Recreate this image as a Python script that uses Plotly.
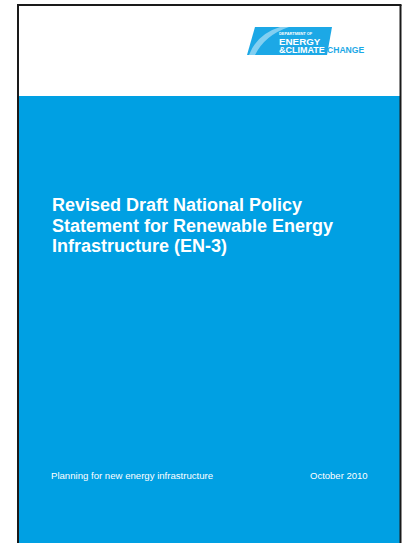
import plotly.graph_objects as go

# Content of the cover (text items)
title_lines = ["Revised Draft National Policy",
               "Statement for Renewable Energy",
               "Infrastructure (EN-3)"]
title_y = [205, 226, 246]
footer_left = "Planning for new energy infrastructure"
footer_right = "October 2010"
logo_small = "DEPARTMENT OF"
logo_line1 = "ENERGY"
logo_line2a = "&CLIMATE"
logo_line2b = "CHANGE"

W, H = 403, 543
BLUE = "#00A0E3"
LOGO_BLUE = "#1CA8E6"
FONT = "Liberation Sans, Arial, sans-serif"

fig = go.Figure()
fig.add_trace(go.Scatter(x=[0, W], y=[0, H], mode="markers",
                         marker=dict(opacity=0), hoverinfo="skip", showlegend=False))

shapes = []
# blue body
shapes.append(dict(type="rect", x0=18, x1=401, y0=96, y1=H + 5,
                   fillcolor=BLUE, line=dict(width=0), layer="below"))
# logo parallelogram
shapes.append(dict(type="path", path="M 255,27 L 332,27 L 327,55 L 247,55 Z",
                   fillcolor=LOGO_BLUE, line=dict(width=0)))
# swoosh
shapes.append(dict(type="path",
                   path="M 249,55 Q 257,34 280,27 L 289,27 Q 265,35 255,55 Z",
                   fillcolor="rgba(255,255,255,0.45)", line=dict(width=0)))
# border
shapes.append(dict(type="line", x0=18, x1=18, y0=5, y1=H + 5,
                   line=dict(color="#1a1a1a", width=2)))
shapes.append(dict(type="line", x0=400.5, x1=400.5, y0=5, y1=H + 5,
                   line=dict(color="#1a1a1a", width=2)))
shapes.append(dict(type="line", x0=17, x1=401.5, y0=5, y1=5,
                   line=dict(color="#1a1a1a", width=2)))

ann = []
for line, y in zip(title_lines, title_y):
    ann.append(dict(text="<b>" + line + "</b>", x=50, y=y, xanchor="left", yanchor="middle",
                    showarrow=False, font=dict(family=FONT, size=18, color="white")))
ann.append(dict(text=footer_left, x=49, y=475, xanchor="left", yanchor="middle",
                showarrow=False, font=dict(family=FONT, size=9.6, color="white")))
ann.append(dict(text=footer_right, x=370, y=475, xanchor="right", yanchor="middle",
                showarrow=False, font=dict(family=FONT, size=9.5, color="white")))
ann.append(dict(text="<b>" + logo_small + "</b>", x=278, y=33.5, xanchor="left", yanchor="middle",
                showarrow=False, borderpad=0, font=dict(family=FONT, size=3.9, color="white")))
ann.append(dict(text="<b>" + logo_line1 + "</b>", x=278, y=41, xanchor="left", yanchor="middle",
                showarrow=False, borderpad=0, font=dict(family=FONT, size=9.8, color="white")))
ann.append(dict(text="<b>" + logo_line2a + "</b>", x=278, y=49.5, xanchor="left", yanchor="middle",
                showarrow=False, borderpad=0, font=dict(family=FONT, size=9.0, color="white")))
ann.append(dict(text="<b>" + logo_line2b + "</b>", x=326, y=49.5, xanchor="left", yanchor="middle",
                showarrow=False, borderpad=0, font=dict(family=FONT, size=8.6, color=LOGO_BLUE)))

fig.update_layout(
    width=W, height=H, autosize=False,
    margin=dict(l=0, r=0, t=0, b=0, pad=0),
    paper_bgcolor="white", plot_bgcolor="white",
    xaxis=dict(range=[0, W], visible=False, fixedrange=True),
    yaxis=dict(range=[H, 0], visible=False, fixedrange=True),
    shapes=shapes, annotations=ann, showlegend=False,
)
fig.write_html("out.html", config={"displayModeBar": False},
               post_script="document.body.style.margin='0';document.body.style.overflow='hidden';")
